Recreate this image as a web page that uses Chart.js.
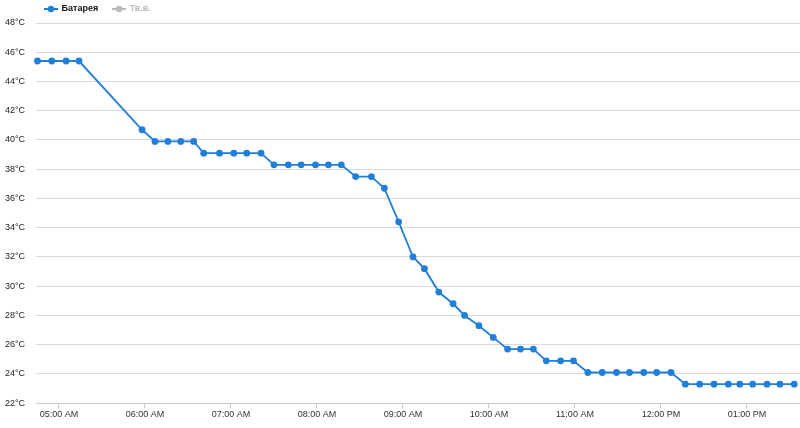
<!DOCTYPE html>
<html>
<head>
<meta charset="utf-8">
<script src="https://cdn.jsdelivr.net/npm/chart.js@4/dist/chart.umd.min.js"></script>
<style>
    body { margin: 0; background: #fff; }
    #wrap { width: 800px; height: 428px; }
</style>
</head>
<body>
<div id="wrap"><canvas id="batteryChart" width="800" height="428"></canvas></div>
<script>

// readings (local time) and battery temperature
const times = [
    "04:45", "04:55", "05:05", "05:14", "05:58", "06:07", "06:16", "06:25", "06:34",
    "06:41", "06:52", "07:02", "07:11", "07:21", "07:30", "07:40", "07:49", "07:59",
    "08:08", "08:17", "08:27", "08:38", "08:47", "08:57", "09:07", "09:15", "09:25",
    "09:35", "09:43", "09:53", "10:03", "10:13", "10:22", "10:31", "10:40", "10:50",
    "10:59", "11:09", "11:19", "11:29", "11:38", "11:48", "11:57", "12:07", "12:17",
    "12:27", "12:37", "12:47", "12:55", "13:04", "13:14", "13:23", "13:33"
];
const batteryTemps = [
    45.4, 45.4, 45.4, 45.4, 40.7, 39.9, 39.9, 39.9, 39.9,
    39.1, 39.1, 39.1, 39.1, 39.1, 38.3, 38.3, 38.3, 38.3,
    38.3, 38.3, 37.5, 37.5, 36.7, 34.4, 32.0, 31.2, 29.6,
    28.8, 28.0, 27.3, 26.5, 25.7, 25.7, 25.7, 24.9, 24.9,
    24.9, 24.1, 24.1, 24.1, 24.1, 24.1, 24.1, 24.1, 23.3,
    23.3, 23.3, 23.3, 23.3, 23.3, 23.3, 23.3, 23.3
];
const hourTicks = ["05:00", "06:00", "07:00", "08:00", "09:00", "10:00", "11:00", "12:00", "13:00"];
const hourLabels = ["05:00 AM", "06:00 AM", "07:00 AM", "08:00 AM", "09:00 AM", "10:00 AM", "11:00 AM", "12:00 PM", "01:00 PM"];
const seriesNames = ["Батарея", "Тв.в."];

const BLUE = "#1f7fd9";
const GREY = "#b9b9b9";


function toMinutes(t) {
    const parts = t.split(":");
    return Number(parts[0]) * 60 + Number(parts[1]);
}


function legendIcon(color) {
    // small line with a dot, like the original legend
    const c = document.createElement("canvas");
    c.width = 14;
    c.height = 8;
    const ctx = c.getContext("2d");
    ctx.strokeStyle = color;
    ctx.lineWidth = 2;
    ctx.beginPath();
    ctx.moveTo(0, 4);
    ctx.lineTo(14, 4);
    ctx.stroke();
    ctx.fillStyle = color;
    ctx.beginPath();
    ctx.arc(7, 4, 3.2, 0, Math.PI * 2);
    ctx.fill();
    return c;
}


const legendPlace = {
    id: "legendPlace",
    afterInit(chart) {
        const fit = chart.legend.fit;
        chart.legend.fit = function () {
            fit.call(this);
            this.height = 23;
        };
    },
    afterLayout(chart) {
        chart.legend.left = 30;
        chart.legend.top = -10.5;
    }
};


function main() {
    const points = times.map((t, i) => ({ x: toMinutes(t), y: batteryTemps[i] }));
    const tickValues = hourTicks.map(toMinutes);
    const icons = [legendIcon(BLUE), legendIcon(GREY)];
    const textColors = ["#111", GREY];

    const ctx = document.getElementById("batteryChart").getContext("2d");
    new Chart(ctx, {
        type: "line",
        data: {
            datasets: [
                {
                    label: seriesNames[0],
                    data: points,
                    borderColor: BLUE,
                    backgroundColor: BLUE,
                    borderWidth: 1.8,
                    pointRadius: 3.4,
                    pointBackgroundColor: BLUE,
                    pointBorderColor: BLUE,
                    pointBorderWidth: 0,
                    tension: 0,
                    fill: false,
                    clip: 6
                },
                {
                    label: seriesNames[1],
                    data: [],
                    borderColor: GREY,
                    backgroundColor: GREY
                }
            ]
        },
        options: {
            responsive: false,
            animation: false,
            layout: { autoPadding: false, padding: { left: 5, right: 0, top: 0, bottom: 7 } },
            plugins: {
                tooltip: { enabled: false },
                legend: {
                    position: "top",
                    align: "start",
                    labels: {
                        usePointStyle: true,
                        pointStyleWidth: 12,
                        padding: 15,
                        font: { family: "'Liberation Sans', Arial, sans-serif", size: 9, weight: "bold" },
                        generateLabels: (chart) => chart.data.datasets.map((ds, i) => ({
                            text: ds.label,
                            fontColor: textColors[i],
                            pointStyle: icons[i],
                            datasetIndex: i,
                            hidden: false,
                            lineWidth: 0,
                            strokeStyle: "transparent",
                            fillStyle: "transparent"
                        }))
                    }
                }
            },
            scales: {
                x: {
                    type: "linear",
                    min: 284,
                    max: 817,
                    afterBuildTicks: (scale) => {
                        scale.ticks = tickValues.map(v => ({ value: v }));
                    },
                    afterFit: (scale) => {
                        scale.paddingLeft = 0;
                        scale.paddingRight = 0;
                    },
                    grid: {
                        display: true,
                        drawOnChartArea: false,
                        drawTicks: true,
                        tickLength: 5,
                        color: "#c3cad3"
                    },
                    border: { display: true, color: "#c3cad3", width: 1 },
                    ticks: {
                        maxRotation: 0,
                        autoSkip: false,
                        padding: 1,
                        color: "#333",
                        font: { family: "'Liberation Sans', Arial, sans-serif", size: 9 },
                        callback: (value) => hourLabels[tickValues.indexOf(value)]
                    }
                },
                y: {
                    min: 22,
                    max: 48,
                    afterFit: (scale) => {
                        scale.width = 31;
                    },
                    grid: {
                        color: "#dadada",
                        drawTicks: false
                    },
                    border: { display: false },
                    ticks: {
                        stepSize: 2,
                        padding: 11,
                        color: "#222",
                        font: { family: "'Liberation Sans', Arial, sans-serif", size: 9 },
                        callback: (value) => value + "°C"
                    }
                }
            }
        },
        plugins: [legendPlace]
    });
}

document.addEventListener("DOMContentLoaded", () => {
    main();
});
</script>
</body>
</html>
